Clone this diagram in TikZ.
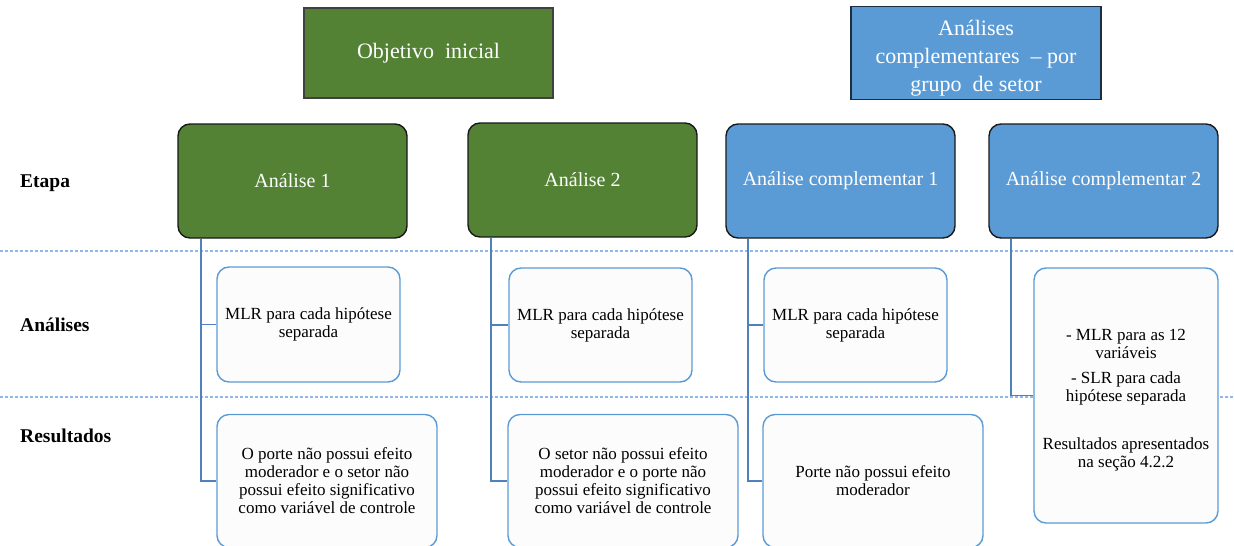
\documentclass[tikz,border=0pt]{standalone}
\usepackage{fontspec}
\setmainfont{Liberation Serif}
\usepackage{tikz}
\usetikzlibrary{positioning}
\definecolor{leafgreen}{HTML}{548235}
\definecolor{skyblue}{HTML}{5B9BD5}
\definecolor{paleblue}{HTML}{8DB8E8}
\definecolor{linkblue}{HTML}{4F81BD}
\definecolor{boxfill}{HTML}{FCFCFC}

\begin{document}
\begin{tikzpicture}[
				x=1pt, y=-1pt,
				head/.style={draw=black!75, line width=1.2pt, text=white, align=center, font=\fontsize{22}{28}\selectfont},
				stage/.style={draw=black!90, line width=1.4pt, rounded corners=12pt, text=white, align=center, minimum width=229pt, minimum height=114pt, font=\fontsize{20}{24}\selectfont},
				item/.style={draw=skyblue, line width=1.4pt, fill=boxfill, rounded corners=12pt, align=center, font=\fontsize{17}{18}\selectfont},
				rowlabel/.style={anchor=west, inner sep=0pt, font=\fontsize{19.5}{22}\selectfont\bfseries},
				sep/.style={draw=paleblue, line width=1.1pt, dash pattern=on 3pt off 2pt},
				link/.style={draw=linkblue, line width=1.8pt}
				]
				\clip (0,0) rectangle (1234,546);
				
				% dashed row separators
				\coordinate (sepAw) at (0,251);
				\coordinate (sepAe) at (1234,251);
				\coordinate (sepBw) at (0,397);
				\coordinate (sepBe) at (1234,397);
				\draw[sep] (sepAw) -- (sepAe);
				\draw[sep] (sepBw) -- (sepBe);
				
				\node (objetivo) at (428.5,53) [head, fill=leafgreen, minimum width=249pt, minimum height=90pt] {Objetivo\ \ inicial};
				\node (complem) at (976,53) [head, fill=skyblue, draw=black!70!skyblue, minimum width=250pt, minimum height=90pt] {\rule{0pt}{26pt}Análises\\ complementares\ \ -- por\\ grupo\ \ de setor};
				
				\node (lblEtapa) at (20,183) [rowlabel] {Etapa};
				\node (lblAnal) at (20,325) [rowlabel] {Análises};
				\node (lblRes) at (20,436) [rowlabel] {Resultados};
				
				\node (etapa1) at (292.5,181) [stage, fill=leafgreen] {Análise 1};
				\node (etapa2) at (582.5,180) [stage, fill=leafgreen] {Análise 2};
				\node (etapa3) at (840.5,181) [stage, fill=skyblue] {Análise complementar 1};
				\node (etapa4) at (1103.5,181) [stage, fill=skyblue] {Análise complementar 2};
				
				\node (anal1) at (308.5,324.5) [item, minimum width=183pt, minimum height=115pt] {MLR para cada hipótese\\ separada};
				\node (anal2) at (600.5,325) [item, minimum width=183pt, minimum height=114pt] {MLR para cada hipótese\\ separada};
				\node (anal3) at (855.5,325) [item, minimum width=183pt, minimum height=114pt] {MLR para cada hipótese\\ separada};
				\node (anal4) at (1126,395.5) [item, minimum width=184pt, minimum height=255pt] {\rule{0pt}{20pt}- MLR para as 12\\ variáveis\\[7pt] - SLR para cada\\ hipótese separada\\[30pt] Resultados apresentados\\ na seção 4.2.2};
				
				\node (res1) at (327,481) [item, minimum width=220pt, minimum height=133pt] {O porte não possui efeito\\ moderador e o setor não\\ possui efeito significativo\\ como variável de controle};
				\node (res2) at (623,481) [item, minimum width=230pt, minimum height=133pt] {O setor não possui efeito\\ moderador e o porte não\\ possui efeito significativo\\ como variável de controle};
				\node (res3) at (873,481) [item, minimum width=220pt, minimum height=133pt] {Porte não possui efeito\\ moderador};
				
				\draw[link] ([xshift=24pt]etapa1.south west) |- (anal1.west);
				\draw[link] ([xshift=24pt]etapa1.south west) |- (res1.west);
				\draw[link] ([xshift=24pt]etapa2.south west) |- (anal2.west);
				\draw[link] ([xshift=24pt]etapa2.south west) |- (res2.west);
				\draw[link] ([xshift=23pt]etapa3.south west) |- (anal3.west);
				\draw[link] ([xshift=23pt]etapa3.south west) |- (res3.west);
				\draw[link] ([xshift=23pt]etapa4.south west) |- (anal4.west);
			\end{tikzpicture}
\end{document}
